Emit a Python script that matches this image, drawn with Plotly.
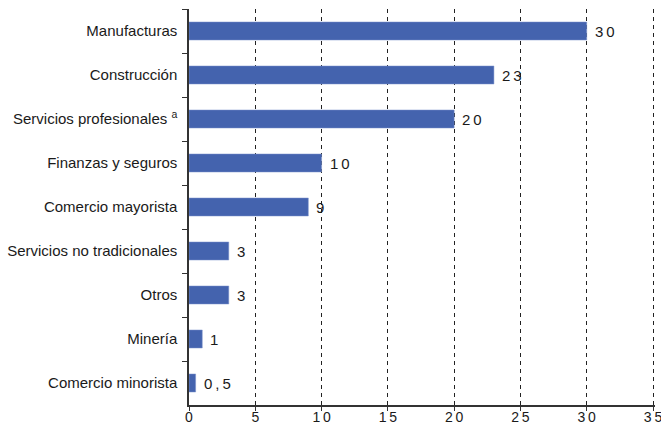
import plotly.graph_objects as go

categories = ["Manufacturas", "Construcción", "Servicios profesionales <sup>a</sup>",
              "Finanzas y seguros", "Comercio mayorista", "Servicios no tradicionales",
              "Otros", "Minería", "Comercio minorista"]
values = [30, 23, 20, 10, 9, 3, 3, 1, 0.5]
value_labels = ["3\u20090", "2\u20093", "2\u20090", "1\u20090", "9", "3", "3", "1", "0\u2009,\u20095"]
tick_vals = [0, 5, 10, 15, 20, 25, 30, 35]
tick_text = ["0", "5", "1\u20090", "1\u20095", "2\u20090", "2\u20095", "3\u20090", "3\u20095"]

bar_color = "#4463AE"
font_family = "Liberation Sans, Arial, sans-serif"

fig = go.Figure()
fig.add_trace(go.Bar(
    x=values, y=categories, orientation="h",
    marker=dict(color=bar_color, line=dict(color="#7F95CC", width=0.5)),
    width=0.41,
    hoverinfo="skip",
))

for v, c, t in zip(values, categories, value_labels):
    fig.add_annotation(x=v, y=c, text=t, showarrow=False, xanchor="left",
                       xshift=6, font=dict(size=15, color="#1a1a1a", family=font_family))

fig.update_layout(
    width=661, height=429,
    margin=dict(l=189, r=6, t=9, b=24),
    paper_bgcolor="white", plot_bgcolor="white",
    showlegend=False,
    font=dict(family=font_family, size=15, color="#1a1a1a"),
)
fig.update_xaxes(
    range=[0, 35.15], tickvals=tick_vals, ticktext=tick_text,
    showgrid=True, gridcolor="#222222", gridwidth=1, griddash="4px,4px",
    showline=True, linecolor="#333333", linewidth=1.5,
    ticks="outside", ticklen=4, tickcolor="#333333",
    zeroline=False, tickfont=dict(size=14), automargin=False,
    ticklabeloverflow="allow", ticklabelstandoff=-6,
)
fig.update_yaxes(
    categoryorder="array", categoryarray=categories, autorange="reversed",
    showline=True, linecolor="#333333", linewidth=1.5,
    ticks="outside", ticklen=5, tickcolor="#333333", tickson="boundaries",
    showgrid=False, tickfont=dict(size=15), ticklabelstandoff=7, automargin=False,
)

fig.write_html("out.html", config={"displayModeBar": False},
               post_script="document.body.style.margin='0';document.body.style.overflow='hidden';")
